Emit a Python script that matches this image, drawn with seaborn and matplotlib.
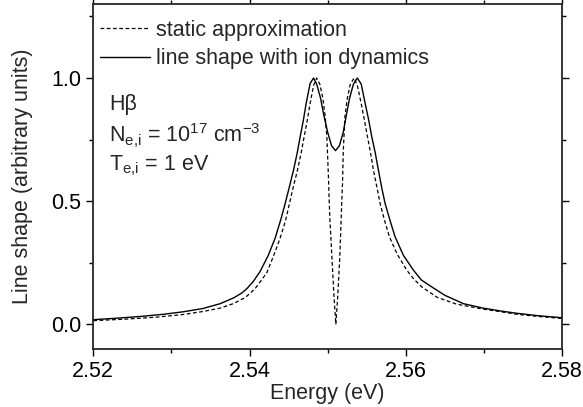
import numpy as np
import pandas as pd
import matplotlib
matplotlib.use("Agg")
import matplotlib.pyplot as plt
from matplotlib.ticker import MultipleLocator, FormatStrFormatter
import seaborn as sns

# values
energy_static = [2.5200, 2.5240, 2.5280, 2.5315, 2.5340, 2.53625, 2.5380, 2.5395, 2.54072,
                 2.54222, 2.5431, 2.54392, 2.5446, 2.54511, 2.5456, 2.54614, 2.5466, 2.54699,
                 2.5474, 2.54776, 2.5482, 2.5486,
                 2.5490, 2.5494, 2.5497, 2.5499, 2.5501, 2.5502, 2.5503, 2.55055, 2.5508,
                 2.55105, 2.5513, 2.55155, 2.5517, 2.5518, 2.5519, 2.5520, 2.5522, 2.5525,
                 2.5529, 2.55339,
                 2.5538, 2.55429, 2.5547, 2.5551, 2.5555, 2.55586, 2.5563, 2.55672, 2.5573,
                 2.55791, 2.5589, 2.56013, 2.5610, 2.56205, 2.5640, 2.5665, 2.5699, 2.5720,
                 2.5742, 2.5770, 2.5800]
shape_static = [0.015, 0.021, 0.029, 0.040, 0.052, 0.066, 0.085, 0.110, 0.145,
                0.21, 0.28, 0.35, 0.42, 0.49, 0.558, 0.626, 0.695, 0.761,
                0.83, 0.897, 0.97, 1.00,
                0.975, 0.915, 0.84, 0.76, 0.60, 0.50, 0.42, 0.27, 0.12,
                0.00, 0.12, 0.27, 0.40, 0.49, 0.57, 0.70, 0.84, 0.915,
                0.975, 1.00,
                0.97, 0.897, 0.83, 0.761, 0.695, 0.626, 0.558, 0.49, 0.42,
                0.355, 0.285, 0.22, 0.185, 0.152, 0.11, 0.082, 0.062, 0.052,
                0.041, 0.032, 0.024]

energy_dyn = [2.5200, 2.5230, 2.5260, 2.5290, 2.5315, 2.5340, 2.53625, 2.5380, 2.5390,
              2.53966, 2.5405, 2.54136, 2.5424, 2.54328, 2.5440, 2.54456, 2.5451, 2.54563,
              2.5461, 2.54648, 2.5469, 2.54725, 2.54776, 2.5482,
              2.5486, 2.5491, 2.5495, 2.5500, 2.5505, 2.5510, 2.5515, 2.5520, 2.5524,
              2.5528, 2.5533, 2.5538,
              2.5543, 2.5548, 2.55525, 2.55565, 2.5561, 2.5565, 2.5569, 2.55736, 2.5580,
              2.55864, 2.5597, 2.56098, 2.5620, 2.56333, 2.5650, 2.56738, 2.5699, 2.5720,
              2.5742, 2.5770, 2.5800]
shape_dyn = [0.019, 0.025, 0.032, 0.041, 0.051, 0.064, 0.084, 0.108, 0.127,
             0.145, 0.175, 0.215, 0.28, 0.35, 0.425, 0.49, 0.558, 0.626,
             0.695, 0.761, 0.83, 0.897, 0.978, 1.00,
             0.975, 0.917, 0.85, 0.78, 0.725, 0.705, 0.725, 0.78, 0.85,
             0.917, 0.975, 1.00,
             0.975, 0.897, 0.83, 0.761, 0.695, 0.626, 0.558, 0.49, 0.42,
             0.355, 0.28, 0.22, 0.18, 0.152, 0.118, 0.084, 0.066, 0.055,
             0.045, 0.035, 0.027]

labels = ["static approximation", "line shape with ion dynamics"]

sns.set_style("ticks")
plt.rcParams['font.family'] = ['Liberation Sans', 'DejaVu Sans']
plt.rcParams['mathtext.default'] = 'regular'
plt.rcParams['axes.linewidth'] = 1.3

static = pd.DataFrame({'energy': energy_static, 'shape': shape_static})
dyn = pd.DataFrame({'energy': energy_dyn, 'shape': shape_dyn})

fig = plt.figure(figsize=(5.83, 4.07), dpi=100)
ax = fig.add_axes([0.16, 0.1425, 0.804, 0.8475])

sns.lineplot(data=static, x='energy', y='shape', ax=ax, color='black', lw=0.9,
             label=labels[0], sort=False)
ax.lines[-1].set_dashes((3, 2))
sns.lineplot(data=dyn, x='energy', y='shape', ax=ax, color='black', lw=1.0,
             label=labels[1], sort=False)

ax.set_xlim(2.52, 2.58)
ax.set_ylim(-0.1, 1.3)
ax.xaxis.set_major_locator(MultipleLocator(0.02))
ax.xaxis.set_minor_locator(MultipleLocator(0.01))
ax.yaxis.set_major_locator(MultipleLocator(0.5))
ax.yaxis.set_minor_locator(MultipleLocator(0.25))
ax.xaxis.set_major_formatter(FormatStrFormatter('%.2f'))
ax.yaxis.set_major_formatter(FormatStrFormatter('%.1f'))
ax.tick_params(which='both', direction='out', top=True, right=True, width=1.0,
               labelsize=15.5, colors='black')
ax.tick_params(which='major', length=5)
ax.tick_params(which='minor', length=3)
for s in ax.spines.values():
    s.set_visible(True)

ax.set_xlabel("Energy (eV)", fontsize=15.5, labelpad=1)
ax.set_ylabel("Line shape (arbitrary units)", fontsize=15.5, labelpad=13)

leg = ax.legend(loc='upper left', bbox_to_anchor=(0.015, 0.955), frameon=False,
                fontsize=15.5, handlelength=2.3, handletextpad=0.3,
                borderaxespad=0, borderpad=0, labelspacing=0.35)

ax.text(0.034, 0.693, "H\u03b2", transform=ax.transAxes, fontsize=15.5, va='baseline')
ax.text(0.034, 0.600, r"N$_{e{,}i}$ = 10$^{17}$ cm$^{-3}$", transform=ax.transAxes,
        fontsize=15.5, va='baseline')
ax.text(0.034, 0.517, r"T$_{e{,}i}$ = 1 eV", transform=ax.transAxes, fontsize=15.5,
        va='baseline')

fig.savefig("out.png", dpi=100)
